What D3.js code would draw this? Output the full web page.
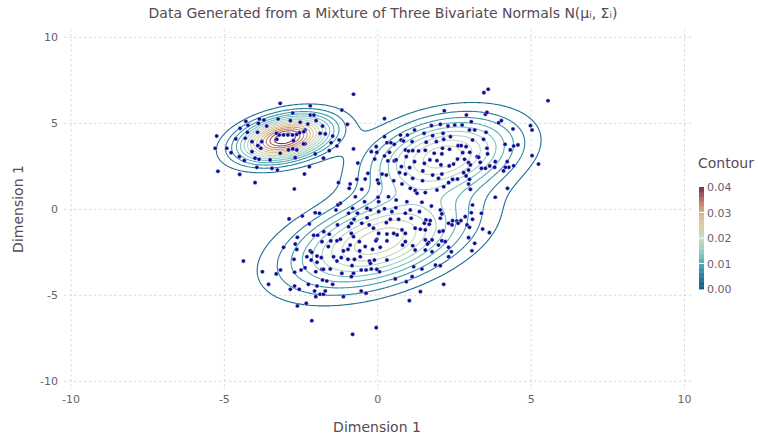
<!DOCTYPE html>
<html>
<head>
<meta charset="utf-8">
<script src="https://cdn.jsdelivr.net/npm/d3@7"></script>
<style>
  body { margin: 0; background: #fff; }
  svg text { font-family: "DejaVu Sans", sans-serif; }
</style>
</head>
<body>
<svg id="chart" width="758" height="439"></svg>
<script>
// mixture components
const weights = [0.2, 0.47, 0.33];
const means = [[-3.05, 4.1], [0.0, -1.9], [2.1, 3.1]];
const sds = [[0.95, 0.85], [1.85, 1.75], [1.5, 1.45]];
const rhos = [0.35, 0.45, 0.3];

// sampled points [x, y]
const points = [
[-3.18,6.16],[-2.20,6.02],[-2.77,5.60],[-2.20,5.48],[-2.08,5.48],[-4.30,5.12],[-3.86,5.25],[-3.71,5.19],[-3.25,5.25],[-2.85,5.15],
[-2.53,5.06],[-2.28,4.96],[-2.01,5.15],[-4.23,4.88],[-3.89,5.00],[-3.62,4.84],[-1.80,4.84],[-4.49,4.71],[-2.37,4.61],[-4.25,4.48],
[-3.92,4.48],[-3.30,4.42],[-3.21,4.32],[-3.07,4.32],[-2.93,4.32],[-2.78,4.32],[-2.64,4.36],[-2.55,4.45],[-2.41,4.51],[-1.88,4.42],
[-5.25,4.26],[-4.32,4.13],[-4.10,3.93],[-3.78,3.93],[-4.63,4.09],[-2.75,3.99],[-2.37,3.80],[-2.42,3.80],[-3.29,4.07],[-5.30,3.55],
[-4.92,3.55],[-3.91,3.70],[-3.81,3.55],[-4.10,3.35],[-4.78,3.29],[-3.18,3.26],[-2.91,3.45],[-2.77,3.51],[-2.64,3.45],[-4.51,3.06],
[-4.35,2.83],[-4.00,2.97],[-3.87,2.91],[-3.51,2.87],[-2.69,3.00],[-1.77,2.97],[-2.04,3.22],[-2.23,2.48],[-3.94,2.44],[-3.45,2.38],
[-1.17,5.77],[-0.99,4.94],[-1.47,4.26],[-1.71,4.38],[-1.26,4.03],[-1.52,3.87],[-1.33,3.68],[-1.58,3.41],[-0.79,3.51],[-0.79,6.69],
[-5.21,2.21],[-4.50,2.03],[-3.27,2.28],[-2.39,2.05],[-4.00,1.55],[-2.72,1.18],
[0.22,5.27],[1.75,4.86],[2.17,5.73],[2.04,4.94],[0.22,4.22],[0.74,4.32],[1.20,4.61],[0.97,4.32],[1.79,4.28],[2.13,4.42],
[1.51,4.42],[0.30,3.87],[0.43,3.87],[0.54,3.78],[0.76,4.03],[0.84,3.97],[1.12,3.93],[1.58,3.90],[1.91,3.93],[2.15,4.07],
[-0.05,3.64],[-0.21,3.35],[-0.03,3.31],[0.38,3.31],[0.90,3.45],[1.00,3.39],[1.14,3.41],[1.33,3.39],[1.55,3.43],[1.84,3.26],
[2.11,3.55],[2.09,3.22],[0.22,3.10],[-0.10,2.92],[0.93,3.06],[1.70,2.87],[1.93,2.83],[0.33,2.81],[0.54,2.81],[0.60,2.87],
[-0.65,2.69],[1.20,2.77],[1.52,2.67],[1.04,2.42],[2.06,2.58],[0.77,2.48],
[3.46,6.78],[3.60,6.98],[5.55,6.31],[2.89,5.48],[3.51,5.52],[3.56,5.64],[3.05,5.09],[3.94,5.03],[4.03,5.15],[4.98,4.86],
[2.29,4.84],[2.51,4.90],[2.75,4.90],[4.41,4.67],[2.99,4.61],[3.16,4.61],[3.53,4.48],[2.37,4.22],[5.03,4.61],[3.09,4.03],
[3.45,4.07],[4.15,3.78],[4.57,3.74],[4.43,3.68],[2.62,3.70],[2.72,3.70],[4.32,3.45],[2.88,3.64],[2.34,3.49],[2.77,3.29],
[3.00,3.31],[3.56,3.55],[3.58,3.22],[3.24,3.06],[3.29,3.02],[5.03,3.12],[2.60,2.92],[2.83,2.91],[3.83,2.77],[4.22,2.77],
[5.24,2.63],[2.47,2.63],[2.33,2.52],[2.96,2.71],[3.02,2.58],[3.34,2.73],[3.65,2.52],[3.81,2.44],[4.27,2.44],[4.16,2.44],
[4.43,2.53],[3.38,2.38],[3.51,2.38],
[-2.89,-0.56],[-2.46,-0.39],[-2.04,-0.20],[-1.90,-0.23],[-2.23,-0.85],[-1.76,-1.30],[-2.09,-1.51],[-1.96,-1.51],[-2.62,-1.63],[-1.82,-1.88],
[-2.69,-2.02],[-3.07,-2.21],[-2.64,-2.33],[-2.20,-2.42],[-2.15,-2.50],
[-1.28,1.55],[-0.90,1.47],[-0.93,1.22],[-0.68,1.74],[-0.41,1.76],[-0.32,2.09],[0.14,2.05],[0.28,1.99],[-0.01,1.70],[0.03,1.51],
[0.52,1.66],[0.71,2.13],[0.90,2.05],[0.79,1.47],[1.14,1.80],[1.47,2.23],[1.46,1.66],[1.79,1.99],[1.98,1.80],[2.09,2.05],
[1.06,1.22],[1.22,1.08],[1.28,0.93],[1.55,0.97],[1.93,1.12],[2.15,1.31],[-0.52,1.16],[-0.73,0.73],[-0.43,0.44],[0.01,0.70],
[0.03,0.44],[0.35,0.73],[0.60,0.54],[0.95,0.44],[1.44,0.41],[-1.22,0.35],[-1.30,0.25],[-1.36,-0.04],[-0.82,0.06],[-0.95,-0.23],
[-0.66,-0.23],[-0.35,0.06],[-0.24,-0.04],[0.22,0.03],[0.03,-0.14],[0.59,0.09],[0.46,-0.14],[0.90,-0.23],[1.36,-0.14],[1.06,-0.04],
[1.75,0.19],[2.04,-0.04],[2.09,-0.27],[-0.77,-0.58],[-0.35,-0.49],[0.41,-0.58],[0.68,-0.58],[1.09,-0.52],[1.71,-0.66],[1.57,-0.62],
[2.04,-0.52],[-1.31,-0.91],[-0.86,-0.81],[-0.95,-1.01],[-0.52,-0.81],[-0.28,-0.91],[-0.14,-1.10],[0.28,-0.78],[1.52,-0.81],[1.68,-0.87],
[1.22,-1.10],[1.39,-1.16],[1.55,-1.20],[0.79,-1.20],[0.90,-1.40],[0.63,-1.49],[0.52,-1.40],[0.30,-1.44],[0.03,-1.40],[2.01,-1.30],
[2.13,-1.26],[-0.86,-1.40],[-0.79,-1.59],[-1.58,-1.45],[-1.53,-1.84],[-1.22,-1.74],[-1.33,-1.83],[-0.60,-1.88],[-0.03,-1.74],[-0.06,-1.83],
[0.30,-1.84],[0.90,-1.88],[1.55,-1.78],[1.66,-1.94],[1.77,-1.78],[2.09,-1.83],[-0.90,-2.08],[-0.41,-2.17],[-0.17,-2.33],[0.08,-2.21],
[0.81,-2.08],[1.14,-2.12],[1.22,-2.37],[1.62,-2.02],[1.77,-2.47],[1.98,-2.08],[-1.61,-2.17],[-1.12,-2.42],[-0.97,-2.33],[-0.59,-2.42],
[1.55,-2.37],
[2.80,2.13],[2.96,2.28],[2.88,1.94],[2.99,1.74],[2.96,1.47],[2.31,1.55],[2.44,1.74],[2.60,1.76],[3.02,1.16],[4.10,2.23],
[4.23,1.22],[3.83,0.70],[3.09,0.25],[3.38,-0.23],[2.85,-0.43],[3.05,-0.20],[3.09,-0.58],[2.44,-0.66],[2.58,-0.68],[2.71,-0.66],
[2.31,-0.81],[2.42,-0.91],[2.62,-0.81],[2.91,-0.91],[2.99,-1.05],[3.42,-1.15],[3.64,-1.36],[2.96,-1.65],[3.16,-1.98],[2.31,-2.21],
[2.20,-1.88],[3.07,-2.41],[2.40,-2.47],
[-4.38,-3.01],[-3.76,-3.63],[-3.31,-3.76],[-3.17,-3.53],[-3.56,-4.36],[-2.73,-2.91],[-2.71,-3.66],[-2.50,-3.53],[-2.37,-3.40],[-2.31,-2.76],
[-2.17,-2.95],[-1.98,-2.72],[-1.98,-3.08],[-1.82,-3.49],[-1.77,-3.49],[-2.02,-3.63],[-1.80,-4.11],[-1.84,-2.81],[-2.71,-4.46],[-2.56,-4.65],
[-2.85,-4.65],[-2.26,-4.36],[-1.98,-4.46],[-2.06,-4.75],[-1.88,-4.94],[-1.77,-4.94],[-2.02,-5.08],[-2.62,-5.62],[-2.33,-5.47],[-2.15,-6.48],
[-1.44,-2.76],[-1.19,-2.81],[-0.97,-2.91],[-0.76,-2.91],[-0.57,-2.76],[-1.33,-3.01],[-0.27,-3.01],[-0.11,-2.95],[-0.24,-3.14],[0.30,-2.95],
[-0.84,-3.28],[-1.55,-3.47],[-0.54,-3.53],[-0.38,-3.53],[-0.21,-3.47],[-0.03,-3.49],[0.06,-3.63],[-1.17,-3.72],[-0.79,-3.72],[-0.86,-3.92],
[1.17,-3.34],[1.44,-3.47],[1.88,-3.24],[2.04,-3.28],[1.12,-3.92],[0.57,-4.05],[0.93,-4.21],[-1.66,-4.17],[-1.47,-4.36],[2.15,-4.36],
[-1.71,-4.75],[-0.54,-4.75],[-0.38,-4.88],[-1.12,-5.08],[1.39,-4.79],[1.03,-5.31],[-0.05,-6.88],[-0.82,-7.27],[2.31,-2.76]
];

// axis ticks and legend ticks
const xTicks = [-10, -5, 0, 5, 10];
const yTicks = [-10, -5, 0, 5, 10];
const legendTicks = [0, 0.01, 0.02, 0.03, 0.04];
const rampStops = ["#1c5782", "#237ea0", "#4fa9b1", "#98cfc6", "#c6d8c1", "#d9cfa7", "#d8b189", "#b77460", "#7a2a44"];

const svg = d3.select("#chart");
const x = d3.scaleLinear().domain([-10, 10]).range([71, 684.5]);
const y = d3.scaleLinear().domain([-10, 10]).range([381.3, 37.3]);

const txtCol = "#564a55", tickCol = "#6c606b", gridCol = "#d0d0e0";

// grid lines
svg.append("g").selectAll("line").data(xTicks).join("line")
  .attr("x1", d => x(d)).attr("x2", d => x(d))
  .attr("y1", 29).attr("y2", 390)
  .attr("stroke", gridCol).attr("stroke-width", 0.8).attr("stroke-dasharray", "2.5,2.5");
svg.append("g").selectAll("line").data(yTicks).join("line")
  .attr("y1", d => y(d)).attr("y2", d => y(d))
  .attr("x1", 64).attr("x2", 692)
  .attr("stroke", gridCol).attr("stroke-width", 0.8).attr("stroke-dasharray", "2.5,2.5");

// tick labels
svg.append("g").selectAll("text").data(xTicks).join("text")
  .attr("x", d => x(d)).attr("y", 403).attr("text-anchor", "middle")
  .attr("font-size", 11).attr("fill", tickCol).text(d => d);
svg.append("g").selectAll("text").data(yTicks).join("text")
  .attr("x", 58).attr("y", d => y(d) + 4).attr("text-anchor", "end")
  .attr("font-size", 11).attr("fill", tickCol).text(d => d);

// density grid
function density(px, py) {
  let s = 0;
  for (let k = 0; k < weights.length; k++) {
    const [mx, my] = means[k], [sx, sy] = sds[k], r = rhos[k];
    const dx = (px - mx) / sx, dy = (py - my) / sy;
    const q = (dx * dx - 2 * r * dx * dy + dy * dy) / (1 - r * r);
    s += weights[k] * Math.exp(-q / 2) / (2 * Math.PI * sx * sy * Math.sqrt(1 - r * r));
  }
  return s;
}
const step = 0.05, n = 401;
const values = new Array(n * n);
for (let j = 0; j < n; j++)
  for (let i = 0; i < n; i++)
    values[j * n + i] = density(-10 + i * step, -10 + j * step);
const zmax = d3.max(values);
const thresholds = d3.range(1, 16).map(i => i * zmax / 16);

const color = d3.scaleLinear()
  .domain(d3.range(rampStops.length).map(i => i * 0.04 / (rampStops.length - 1)))
  .range(rampStops).clamp(true);

const contours = d3.contours().size([n, n]).thresholds(thresholds)(values);
const proj = d3.geoTransform({
  point: function(gx, gy) { this.stream.point(x(-10 + gx * step), y(-10 + gy * step)); }
});
const path = d3.geoPath(proj);
svg.append("g").selectAll("path").data(contours).join("path")
  .attr("d", path).attr("fill", "none")
  .attr("stroke", d => color(d.value)).attr("stroke-width", 1.1);

// points
svg.append("g").selectAll("circle").data(points).join("circle")
  .attr("cx", d => x(d[0])).attr("cy", d => y(d[1])).attr("r", 2.1)
  .attr("fill", "#0c0c94").attr("stroke", "#fff").attr("stroke-width", 0.4);

// titles
svg.append("text").attr("x", 383).attr("y", 18).attr("text-anchor", "middle")
  .attr("font-size", 14).attr("fill", txtCol)
  .text("Data Generated from a Mixture of Three Bivariate Normals N(μᵢ, Σᵢ)");
svg.append("text").attr("x", 377).attr("y", 432).attr("text-anchor", "middle")
  .attr("font-size", 14).attr("fill", txtCol).text("Dimension 1");
svg.append("text").attr("transform", "translate(23,209) rotate(-90)").attr("text-anchor", "middle")
  .attr("font-size", 14).attr("fill", txtCol).text("Dimension 1");

// legend
const ly = d3.scaleLinear().domain([0, 0.04]).range([289, 187]);
svg.append("text").attr("x", 698).attr("y", 168).attr("font-size", 14)
  .attr("fill", txtCol).text("Contour");
const bands = d3.range(0, 0.04, 0.0005);
svg.append("g").selectAll("rect").data(bands).join("rect")
  .attr("x", 699).attr("width", 5)
  .attr("y", d => ly(d + 0.0005)).attr("height", d => ly(d) - ly(d + 0.0005) + 0.4)
  .attr("fill", d => color(d + 0.00025));
svg.append("g").selectAll("line").data(legendTicks.slice(1, -1)).join("line")
  .attr("x1", 699).attr("x2", 704).attr("y1", d => ly(d)).attr("y2", d => ly(d))
  .attr("stroke", "#fff").attr("stroke-width", 1);
svg.append("g").selectAll("text").data(legendTicks).join("text")
  .attr("x", 707).attr("y", d => ly(d) + 4).attr("font-size", 11)
  .attr("fill", tickCol).text(d => d.toFixed(2));
</script>
</body>
</html>
